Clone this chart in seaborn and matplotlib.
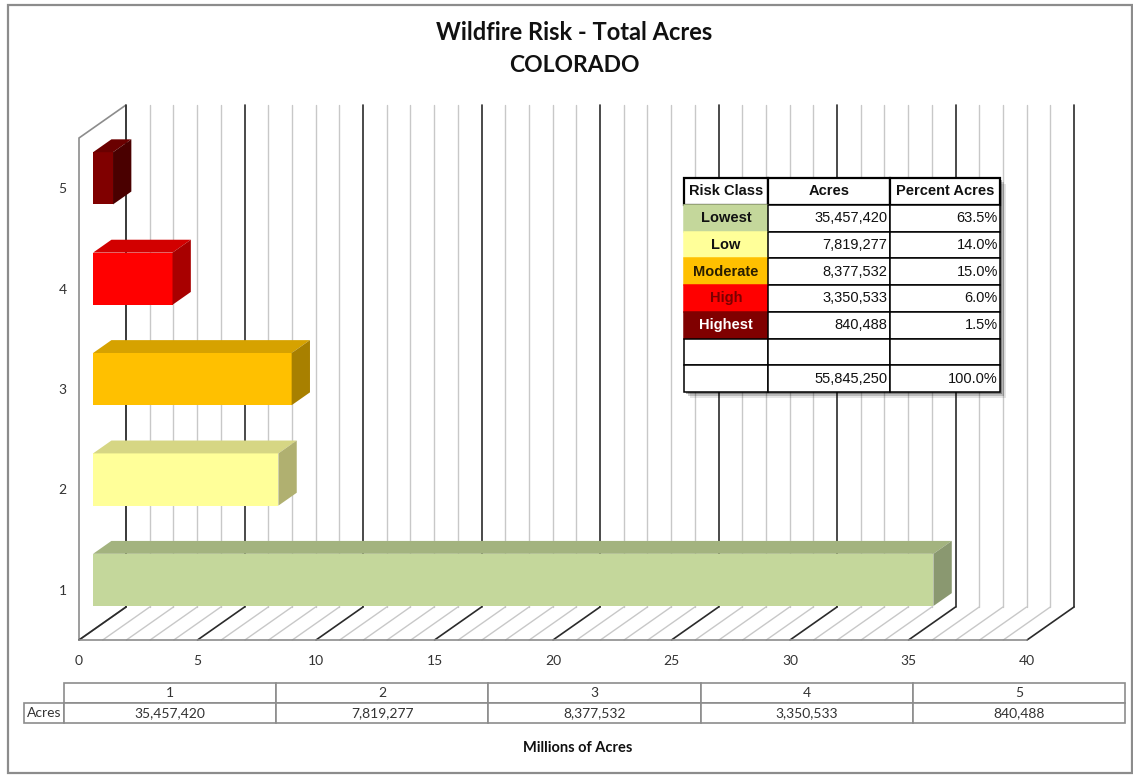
import numpy as np
import pandas as pd
import matplotlib
matplotlib.use("Agg")
import matplotlib.pyplot as plt
from matplotlib.patches import Polygon, Rectangle
import seaborn as sns

# ---- data -------------------------------------------------------------
risk_classes = ["Lowest", "Low", "Moderate", "High", "Highest"]
class_ids = ["1", "2", "3", "4", "5"]
acres = [35457420, 7819277, 8377532, 3350533, 840488]
percent_acres = [63.5, 14.0, 15.0, 6.0, 1.5]
total_acres = 55845250
x_ticks = [0, 5, 10, 15, 20, 25, 30, 35, 40]

# ---- styling ----------------------------------------------------------
front_colors = ["#C4D79B", "#FFFF99", "#FFC000", "#FF0000", "#800000"]
top_colors = ["#A3B37F", "#D6D684", "#D6A200", "#D20000", "#6A0000"]
side_colors = ["#8A9870", "#B0B070", "#A88000", "#A80000", "#4A0000"]
class_text_colors = ["#111111", "#111111", "#2A1E00", "#7A0000", "#FFFFFF"]

sns.set_style("white")
plt.rcParams["font.family"] = ["Lato", "DejaVu Sans"]

W, H = 1133, 775
fig = plt.figure(figsize=(W / 100, H / 100), dpi=100)


def fig_rect(x0, y0, x1, y1):
    """Pixel box (top-left origin) -> figure fraction [l, b, w, h]."""
    return [x0 / W, (H - y1) / H, (x1 - x0) / W, (y1 - y0) / H]


# outer chart frame
fig.add_artist(Rectangle((8 / W, 2 / H), 1124 / W, 768 / H, transform=fig.transFigure,
                         fill=False, edgecolor="#8C8C8C", linewidth=1.6))

# ---- main 3D-style bar plot ------------------------------------------
ax = fig.add_axes(fig_rect(79, 138, 1027, 640))
df = pd.DataFrame({"cls": class_ids, "millions": np.array(acres) / 1e6})
order = class_ids[::-1]
sns.barplot(data=df, x="millions", y="cls", hue="cls", order=order,
            palette=dict(zip(class_ids, front_colors)), orient="h",
            width=0.52, saturation=1, legend=False, ax=ax, zorder=3)

ax.set_xlim(0, 40)
ax.set_ylim(4.5, -0.5)

# depth direction of the pseudo-3D box, in data units
DX = 47 / (948 / 40)
DY = 33 / (502 / 5)
f0, f1 = 0.30, 0.69          # bar depth span (fraction of the floor depth)
y_bot, y_top = 4.5, -0.5

# side wall
ax.add_patch(Polygon([(0, y_top), (DX, y_top - DY), (DX, y_bot - DY), (0, y_bot)],
                     closed=True, facecolor="white", edgecolor="#8C8C8C",
                     linewidth=1.2, clip_on=False, zorder=0.5))

# back-wall gridlines and floor lines
for v in range(0, 41):
    major = v % 5 == 0
    col = "#2B2B2B" if major else "#C8C8C8"
    lw = 1.2 if major else 1.0
    ax.plot([v + DX, v + DX], [y_top - DY, y_bot - DY], color=col, lw=lw,
            clip_on=False, zorder=1 if major else 0.8)
    ax.plot([v, v + DX], [y_bot, y_bot - DY], color=col, lw=lw,
            clip_on=False, zorder=1 if major else 0.8)
ax.plot([0, 40], [y_bot, y_bot], color="#8C8C8C", lw=1.2, clip_on=False, zorder=1)

# turn the flat bars into boxes
cat_colors = dict(zip(class_ids, zip(top_colors, side_colors)))
for p in ax.patches[:]:
    if not isinstance(p, Rectangle) or p.get_width() <= 0:
        continue
    pos = int(round(p.get_y() + p.get_height() / 2))
    cid = order[pos]
    top_c, side_c = cat_colors[cid]
    p.set_x(p.get_x() + f0 * DX)
    p.set_y(p.get_y() - f0 * DY)
    p.set_edgecolor("none")
    x0, w = p.get_x(), p.get_width()
    yt, yb = p.get_y(), p.get_y() + p.get_height()
    x1 = x0 + w
    bx, by = (f1 - f0) * DX, (f1 - f0) * DY
    ax.add_patch(Polygon([(x0, yt), (x1, yt), (x1 + bx, yt - by), (x0 + bx, yt - by)],
                         closed=True, facecolor=top_c, edgecolor="none",
                         clip_on=False, zorder=3))
    ax.add_patch(Polygon([(x1, yt), (x1, yb), (x1 + bx, yb - by), (x1 + bx, yt - by)],
                         closed=True, facecolor=side_c, edgecolor="none",
                         clip_on=False, zorder=3))

for s in ax.spines.values():
    s.set_visible(False)
ax.set_xticks(x_ticks)
ax.set_xticklabels([str(t) for t in x_ticks])
ax.tick_params(axis="both", length=0, labelsize=10, colors="#333333")
ax.tick_params(axis="x", pad=11)
ax.tick_params(axis="y", pad=9)
ax.set_xlabel("")
ax.set_ylabel("")
ax.grid(False)

# ---- title --------------------------------------------------------------
fig.text(574 / W, 1 - 33 / H, "Wildfire Risk - Total Acres", ha="center", va="center",
         fontsize=17, fontweight="bold", color="#111111")
fig.text(574 / W, 1 - 66 / H, "COLORADO", ha="center", va="center",
         fontsize=16.5, fontweight="bold", color="#111111")
fig.text(578 / W, 1 - 748 / H, "Millions of Acres", ha="center", va="center",
         fontsize=10.5, fontweight="bold", color="#111111")

# ---- data table under the axis -----------------------------------------
tax = fig.add_axes(fig_rect(24, 683, 1125, 723))
tax.axis("off")
cells = [[""] + class_ids, ["Acres"] + [f"{a:,}" for a in acres]]
tbl = tax.table(cellText=cells, cellLoc="center", bbox=[0, 0, 1, 1],
                colWidths=[40] + [212] * 5)
tbl.auto_set_font_size(False)
for (r, c), cell in tbl.get_celld().items():
    cell.set_edgecolor("#8C8C8C")
    cell.set_linewidth(1.2)
    cell.get_text().set_fontsize(10)
    cell.get_text().set_color("#333333")
    if r == 0 and c == 0:
        cell.visible_edges = "open"

# ---- risk class summary table ---------------------------------------
ix0, iy0, ix1, iy1 = 684, 178, 1000, 392
for k, a in enumerate([0.10, 0.18, 0.30]):
    off = 6 - 2 * k
    fig.add_artist(Rectangle(((ix0 + off) / W, (H - iy1 - off) / H),
                             (ix1 - ix0) / W, (iy1 - iy0) / H,
                             transform=fig.transFigure, facecolor="black",
                             edgecolor="none", alpha=a, zorder=4))
iax = fig.add_axes(fig_rect(ix0, iy0, ix1, iy1), zorder=5)
iax.axis("off")
rows = [["Risk Class", "Acres", "Percent Acres"]]
for name, a, pc in zip(risk_classes, acres, percent_acres):
    rows.append([name, f"{a:,}", f"{pc:.1f}%"])
rows.append(["", "", ""])
rows.append(["", f"{total_acres:,}", "100.0%"])
itbl = iax.table(cellText=rows, bbox=[0, 0, 1, 1], colWidths=[84, 122, 110])
itbl.auto_set_font_size(False)
for (r, c), cell in itbl.get_celld().items():
    cell.set_edgecolor("black")
    cell.set_linewidth(1.1)
    t = cell.get_text()
    t.set_fontsize(10.5)
    t.set_family(["Liberation Sans", "DejaVu Sans"])
    t.set_color("#111111")
    if r == 0:
        t.set_fontweight("bold")
        cell.set_linewidth(1.6)
        cell._loc = "center"
        t.set_horizontalalignment("center")
    elif c == 0:
        t.set_fontweight("bold")
        t.set_horizontalalignment("center")
        cell._loc = "center"
        if 1 <= r <= 5:
            cell.set_facecolor(front_colors[r - 1])
            cell.set_edgecolor(front_colors[r - 1])
            t.set_color(class_text_colors[r - 1])
    else:
        t.set_horizontalalignment("right")
        cell._loc = "right"
        cell.PAD = 0.02

fig.savefig("out.png", dpi=100)
